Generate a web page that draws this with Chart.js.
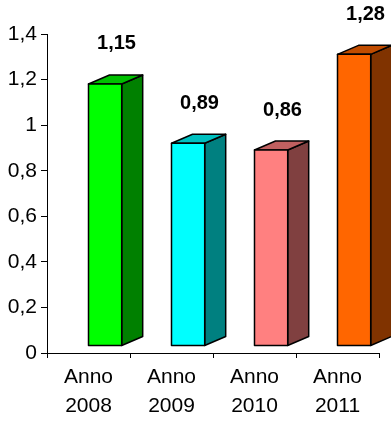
<!DOCTYPE html>
<html>
<head>
<meta charset="utf-8">
<script src="https://cdn.jsdelivr.net/npm/chart.js@4.4.1/dist/chart.umd.min.js"></script>
<style>
  html, body { margin: 0; padding: 0; background: #fff; }
  #wrap { width: 391px; height: 423px; }
</style>
</head>
<body>
<div id="wrap"><canvas id="chart" width="391" height="423"></canvas></div>
<script>
const categories = ['Anno 2008', 'Anno 2009', 'Anno 2010', 'Anno 2011'];
const values = [1.15, 0.89, 0.86, 1.28];
const valueLabels = ['1,15', '0,89', '0,86', '1,28'];
const frontColors = ['#00ff00', '#00ffff', '#ff8080', '#ff6600'];
const sideColors = ['#008000', '#008080', '#804040', '#803300'];
const topColors = ['#00c000', '#00c0c0', '#c06060', '#c04c00'];

const FONT = '"Liberation Sans", Arial, sans-serif';

// bars drawn as 3D boxes (front, side, top) from the bar elements
const bars3d = {
    id: 'bars3d',
    beforeDatasetsDraw(chart) {
        const ctx = chart.ctx;
        const meta = chart.getDatasetMeta(0);
        const depthX = 21, depthY = -9, liftY = -7;
        ctx.save();
        ctx.lineWidth = 1.5;
        ctx.strokeStyle = '#000';
        ctx.lineJoin = 'round';
        meta.data.forEach((bar, i) => {
            const w = bar.width;
            const left = bar.x;
            const right = left + w;
            const top = bar.y + liftY;
            const bottom = bar.base + liftY;

            // side
            ctx.beginPath();
            ctx.moveTo(right, top);
            ctx.lineTo(right + depthX, top + depthY);
            ctx.lineTo(right + depthX, bottom + depthY);
            ctx.lineTo(right, bottom);
            ctx.closePath();
            ctx.fillStyle = sideColors[i];
            ctx.fill();
            ctx.stroke();

            // top
            ctx.beginPath();
            ctx.moveTo(left, top);
            ctx.lineTo(left + depthX, top + depthY);
            ctx.lineTo(right + depthX, top + depthY);
            ctx.lineTo(right, top);
            ctx.closePath();
            ctx.fillStyle = topColors[i];
            ctx.fill();
            ctx.stroke();

            // front
            ctx.beginPath();
            ctx.rect(left, top, w, bottom - top);
            ctx.fillStyle = frontColors[i];
            ctx.fill();
            ctx.stroke();
        });

        ctx.font = 'bold 20px ' + FONT;
        ctx.fillStyle = '#000';
        ctx.textAlign = 'center';
        ctx.textBaseline = 'middle';
        meta.data.forEach((bar, i) => {
            ctx.fillText(valueLabels[i], bar.x + 28, bar.y - 47);
        });
        ctx.restore();
        return false;
    }
};

new Chart(document.getElementById('chart'), {
    type: 'bar',
    data: {
        labels: categories,
        datasets: [{
            data: values,
            backgroundColor: frontColors,
            categoryPercentage: 1,
            barPercentage: 0.4
        }]
    },
    options: {
        responsive: false,
        animation: false,
        layout: { padding: { top: 34, right: 12, left: 0, bottom: 0 } },
        plugins: {
            legend: { display: false },
            tooltip: { enabled: false }
        },
        scales: {
            x: {
                afterFit(scale) { scale.height = 70; },
                grid: {
                    display: true,
                    offset: true,
                    drawOnChartArea: false,
                    drawTicks: true,
                    tickLength: 5,
                    color: '#000'
                },
                border: { display: true, color: '#000', width: 1 },
                ticks: {
                    color: '#000',
                    padding: 5,
                    maxRotation: 0,
                    font: { family: FONT, size: 21, lineHeight: 1.38 },
                    callback(value) { return categories[value].split(' '); }
                }
            },
            y: {
                min: 0,
                max: 1.4,
                afterFit(scale) { scale.width = 47; },
                grid: {
                    display: true,
                    drawOnChartArea: false,
                    drawTicks: true,
                    tickLength: 6,
                    color: '#000'
                },
                border: { display: true, color: '#000', width: 1 },
                ticks: {
                    stepSize: 0.2,
                    color: '#000',
                    padding: 4,
                    font: { family: FONT, size: 21 },
                    callback(value) {
                        return String(Number(value.toFixed(1))).replace('.', ',');
                    }
                }
            }
        }
    },
    plugins: [bars3d]
});
</script>
</body>
</html>
